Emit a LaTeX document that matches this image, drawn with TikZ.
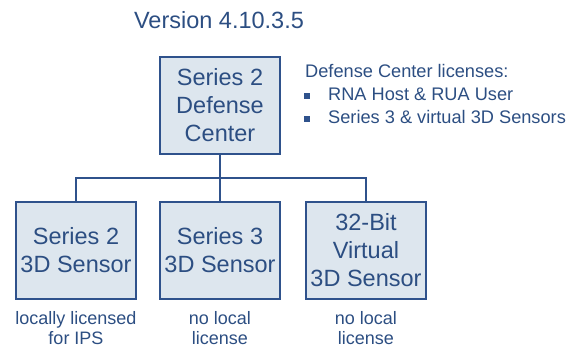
\documentclass[tikz,border=0pt]{standalone}
\usepackage{fontspec}
\setmainfont{Liberation Sans}
\definecolor{boxfill}{RGB}{221,230,238}
\definecolor{boxline}{RGB}{47,82,140}
\definecolor{txt}{RGB}{44,78,130}
\begin{document}
\begin{tikzpicture}[x=1pt,y=-1pt,
  box/.style={draw=boxline,line width=2pt,fill=boxfill,minimum width=120pt,minimum height=97pt,
    inner sep=0pt,align=center,text=txt,font=\fontsize{23.5}{28}\selectfont},
  conn/.style={draw=boxline,line width=2pt},
  lbl/.style={text=txt,align=center,font=\fontsize{18}{20}\selectfont,inner sep=0pt},
  leg/.style={text=txt,anchor=west,font=\fontsize{18.2}{20}\selectfont,inner sep=0pt},
  bullet/.style={fill=boxline,minimum size=5.5pt,inner sep=0pt}]
\useasboundingbox (0,0) rectangle (571,350);
\node[text=txt,font=\fontsize{23.5}{27}\selectfont,inner sep=0pt] (title) at (219,20) {Version 4.10.3.5};
\node[box] (top) at (220,105.5) {Series 2\\Defense\\Center};
\node[box] (b1) at (76,250.5) {Series 2\\3D Sensor};
\node[box] (b2) at (220,250.5) {Series 3\\3D Sensor};
\node[box] (b3) at (366,250.5) {32-Bit\\Virtual\\3D Sensor};
\coordinate (bus) at (0,178);
\draw[conn] (top.south) -- (top.south|-bus);
\draw[conn] (b1.north) -- (b1.north|-bus) -- (b3.north|-bus) -- (b3.north);
\draw[conn] (b2.north) -- (b2.north|-bus);
\node[lbl] (l1) at (76,328) {locally licensed\\for IPS};
\node[lbl] (l2) at (220,328) {no local\\license};
\node[lbl] (l3) at (366,328) {no local\\license};
\node[leg] (lh) at (305,71) {Defense Center licenses:};
\node[bullet] (p1) at (307,96) {};
\node[leg] (lt1) at (328,94) {RNA Host \& RUA User};
\node[bullet] (p2) at (307,119) {};
\node[leg] (lt2) at (328,117) {Series 3 \& virtual 3D Sensors};
\end{tikzpicture}
\end{document}
